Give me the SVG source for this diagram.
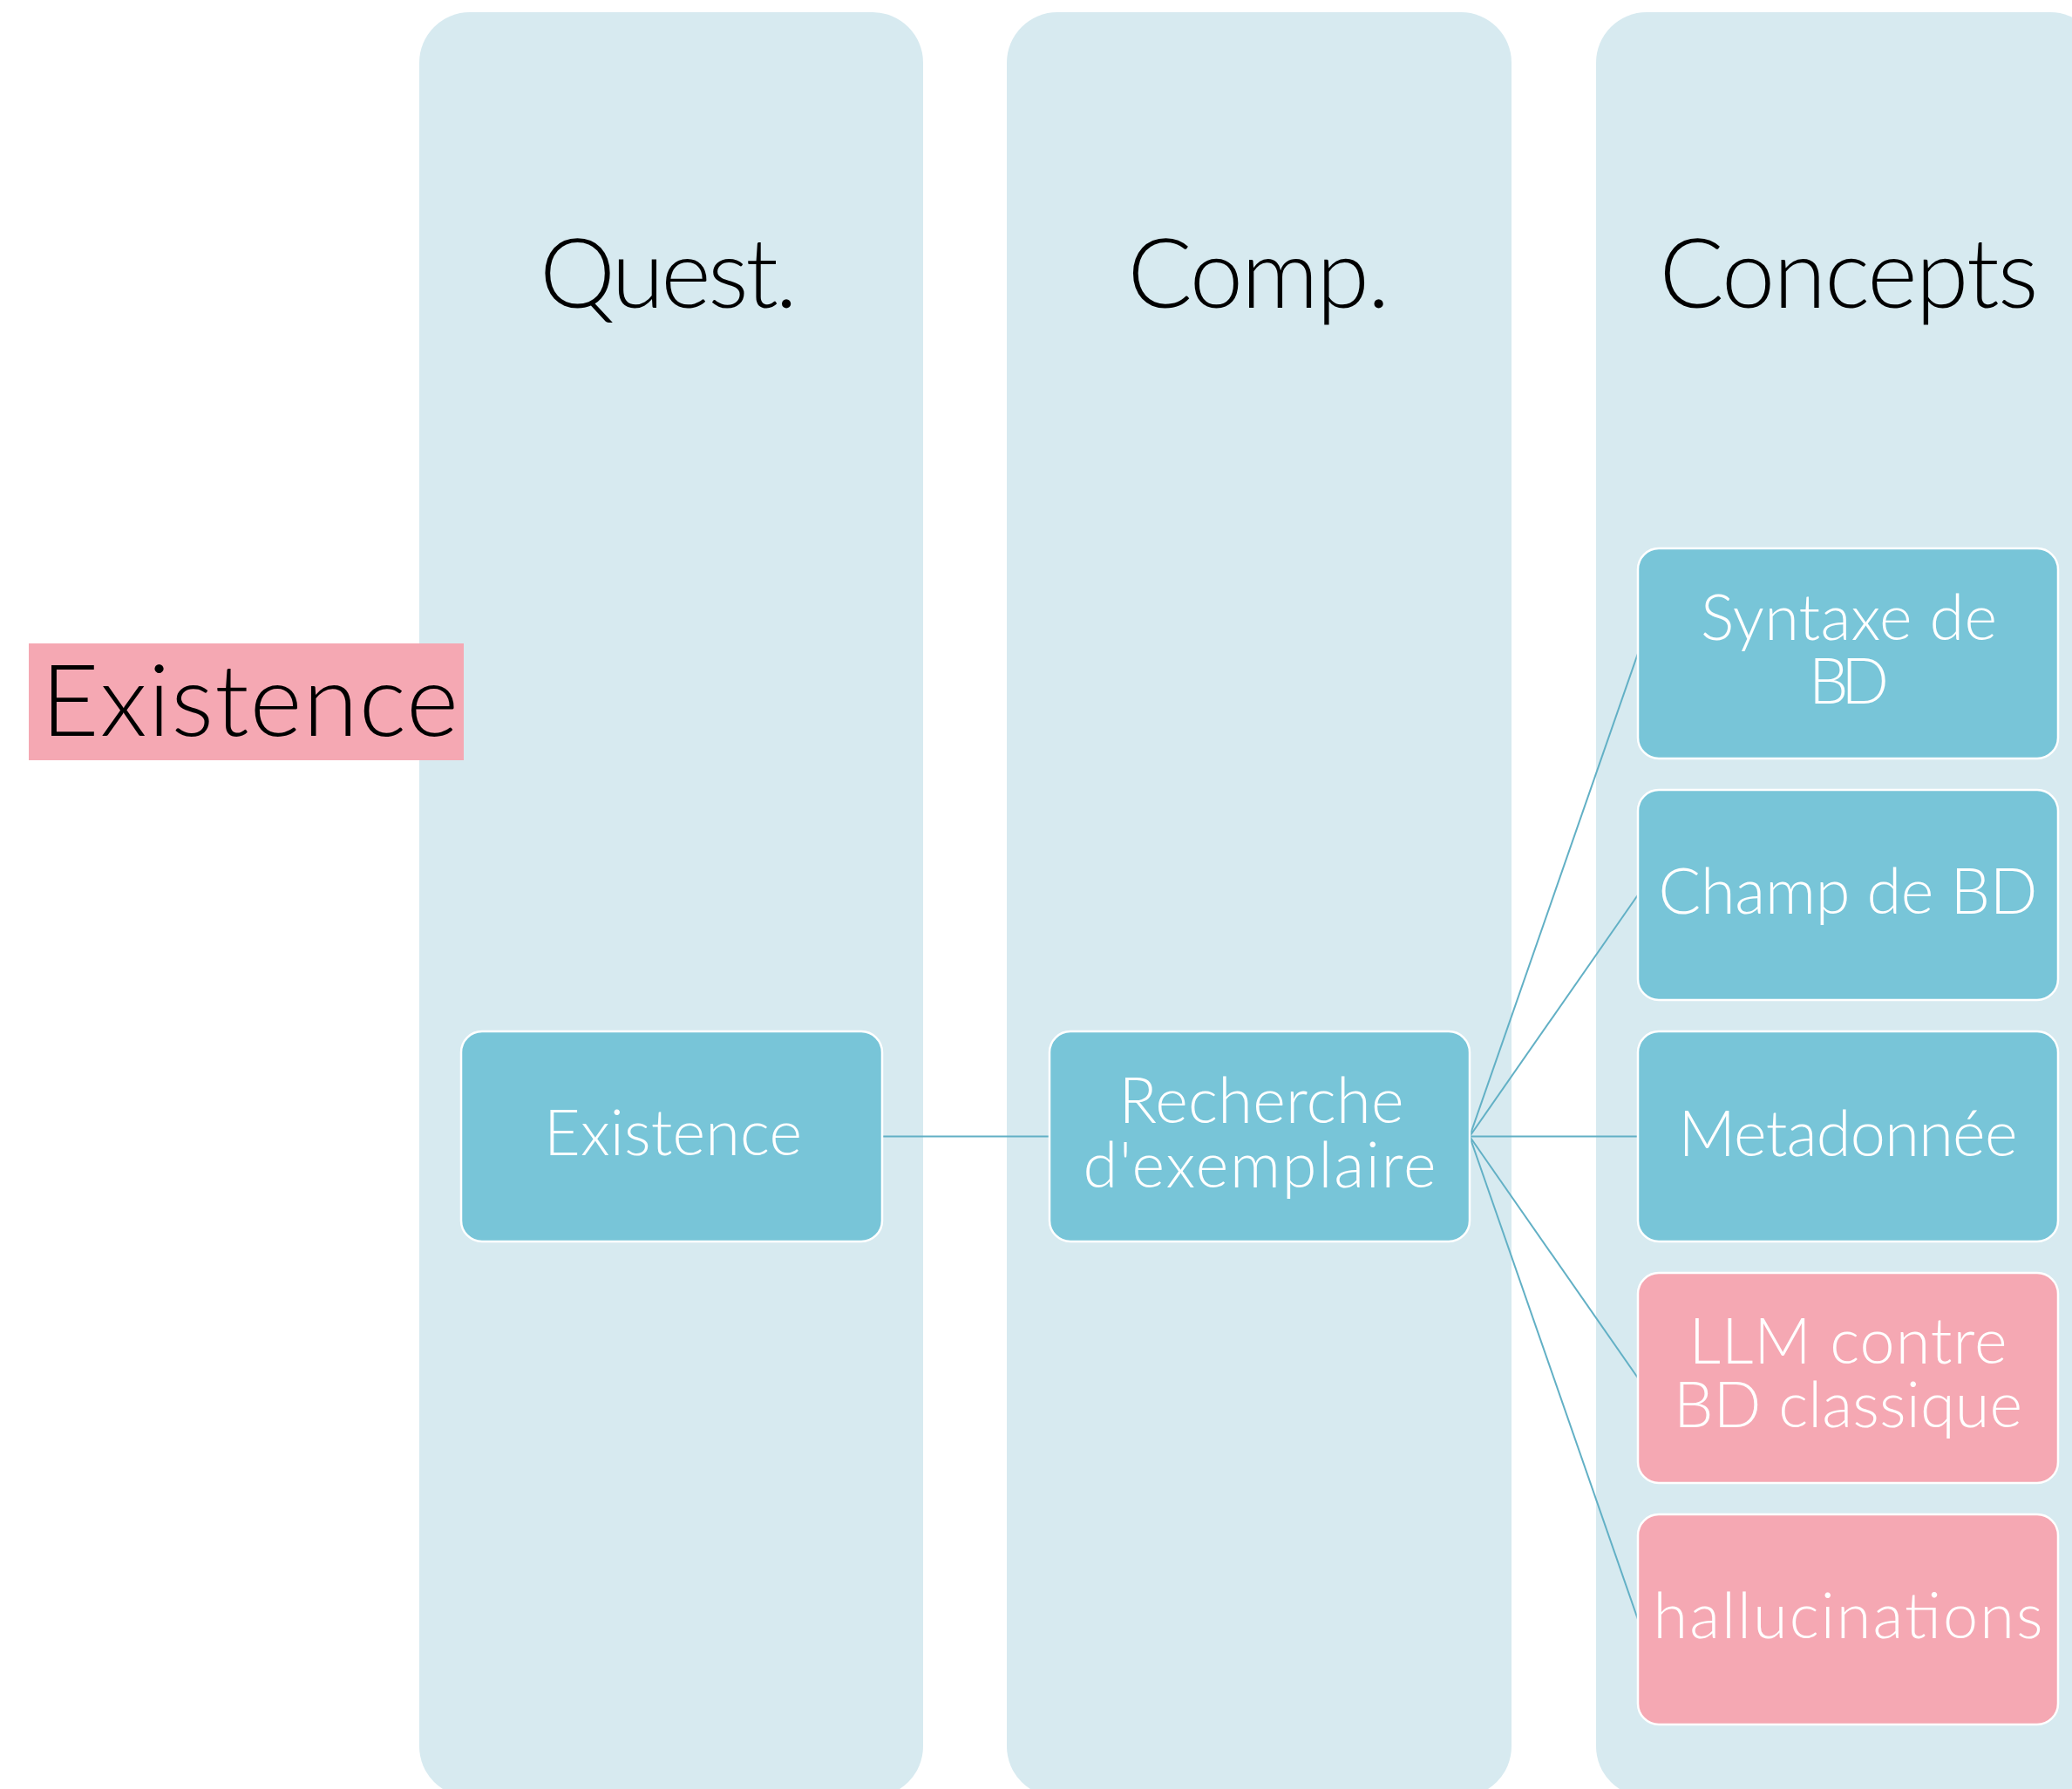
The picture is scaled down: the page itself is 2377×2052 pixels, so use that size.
<svg xmlns="http://www.w3.org/2000/svg" width="2377" height="2052" viewBox="0 0 2377 2052">
  <style>
    .lane { fill: #D7EAF0; }
    .hdr { font-family: Lato, "Liberation Sans", sans-serif; font-weight: 300; font-size: 110px; fill: #000000; text-anchor: middle; }
    .node rect { stroke: #FFFFFF; stroke-width: 2.5; }
    .blue { fill: #78C5D8; }
    .pink { fill: #F5A8B3; }
    .lbl { font-family: Lato, "Liberation Sans", sans-serif; font-weight: 300; font-size: 72px; fill: #FFFFFF; text-anchor: middle; }
    .title { font-family: Lato, "Liberation Sans", sans-serif; font-weight: 300; font-size: 115px; fill: #000000; }
    .conn line { stroke: #62B0C5; stroke-width: 2; fill: none; }
  </style>
  <rect x="0" y="0" width="2377" height="2052" fill="#FFFFFF"/>

  <g id="lanes">
    <g id="lane-quest">
      <rect class="lane" x="481" y="14" width="578" height="2047" rx="58" ry="58"/>
      <text class="hdr" x="767" y="353" textLength="296">Quest.</text>
    </g>
    <g id="lane-comp">
      <rect class="lane" x="1155" y="14" width="579" height="2047" rx="58" ry="58"/>
      <text class="hdr" x="1444" y="353" textLength="301">Comp.</text>
    </g>
    <g id="lane-concepts">
      <rect class="lane" x="1831" y="14" width="579" height="2047" rx="58" ry="58"/>
      <text class="hdr" x="2121" y="353" textLength="435">Concepts</text>
    </g>
  </g>

  <g id="title-existence">
    <rect class="pink" x="33" y="738" width="499" height="134"/>
    <text class="title" x="47" y="844" textLength="479">Existence</text>
  </g>

  <g id="connectors" class="conn">
    <line x1="1012" y1="1303.5" x2="1204" y2="1303.5"/>
    <line x1="1686" y1="1303.5" x2="1879" y2="749.5"/>
    <line x1="1686" y1="1303.5" x2="1879" y2="1026.5"/>
    <line x1="1686" y1="1303.5" x2="1879" y2="1303.5"/>
    <line x1="1686" y1="1303.5" x2="1879" y2="1580.5"/>
    <line x1="1686" y1="1303.5" x2="1879" y2="1857.5"/>
  </g>

  <g id="node-existence" class="node">
    <rect class="blue" x="529" y="1183" width="483" height="241" rx="24" ry="24"/>
    <text class="lbl" x="772" y="1325" textLength="296">Existence</text>
  </g>

  <g id="node-recherche" class="node">
    <rect class="blue" x="1204" y="1183" width="482" height="241" rx="24" ry="24"/>
    <text class="lbl" x="1447" y="1288" textLength="327">Recherche</text>
    <text class="lbl" x="1445" y="1362" textLength="405">d'exemplaire</text>
  </g>

  <g id="node-syntaxe" class="node">
    <rect class="blue" x="1879" y="629" width="482" height="241" rx="24" ry="24"/>
    <text class="lbl" x="2121" y="734" textLength="340">Syntaxe de</text>
    <text class="lbl" x="2121" y="807" textLength="92">BD</text>
  </g>

  <g id="node-champ" class="node">
    <rect class="blue" x="1879" y="906" width="482" height="241" rx="24" ry="24"/>
    <text class="lbl" x="2120" y="1048" textLength="435">Champ de BD</text>
  </g>

  <g id="node-metadonnee" class="node">
    <rect class="blue" x="1879" y="1183" width="482" height="241" rx="24" ry="24"/>
    <text class="lbl" x="2120" y="1326" textLength="389">Metadonnée</text>
  </g>

  <g id="node-llm" class="node">
    <rect class="pink" x="1879" y="1460" width="482" height="241" rx="24" ry="24"/>
    <text class="lbl" x="2120" y="1564" textLength="365">LLM contre</text>
    <text class="lbl" x="2120" y="1637" textLength="400">BD classique</text>
  </g>

  <g id="node-hallucinations" class="node">
    <rect class="pink" x="1879" y="1737" width="482" height="241" rx="24" ry="24"/>
    <text class="lbl" x="2120" y="1879" textLength="447">hallucinations</text>
  </g>
</svg>
